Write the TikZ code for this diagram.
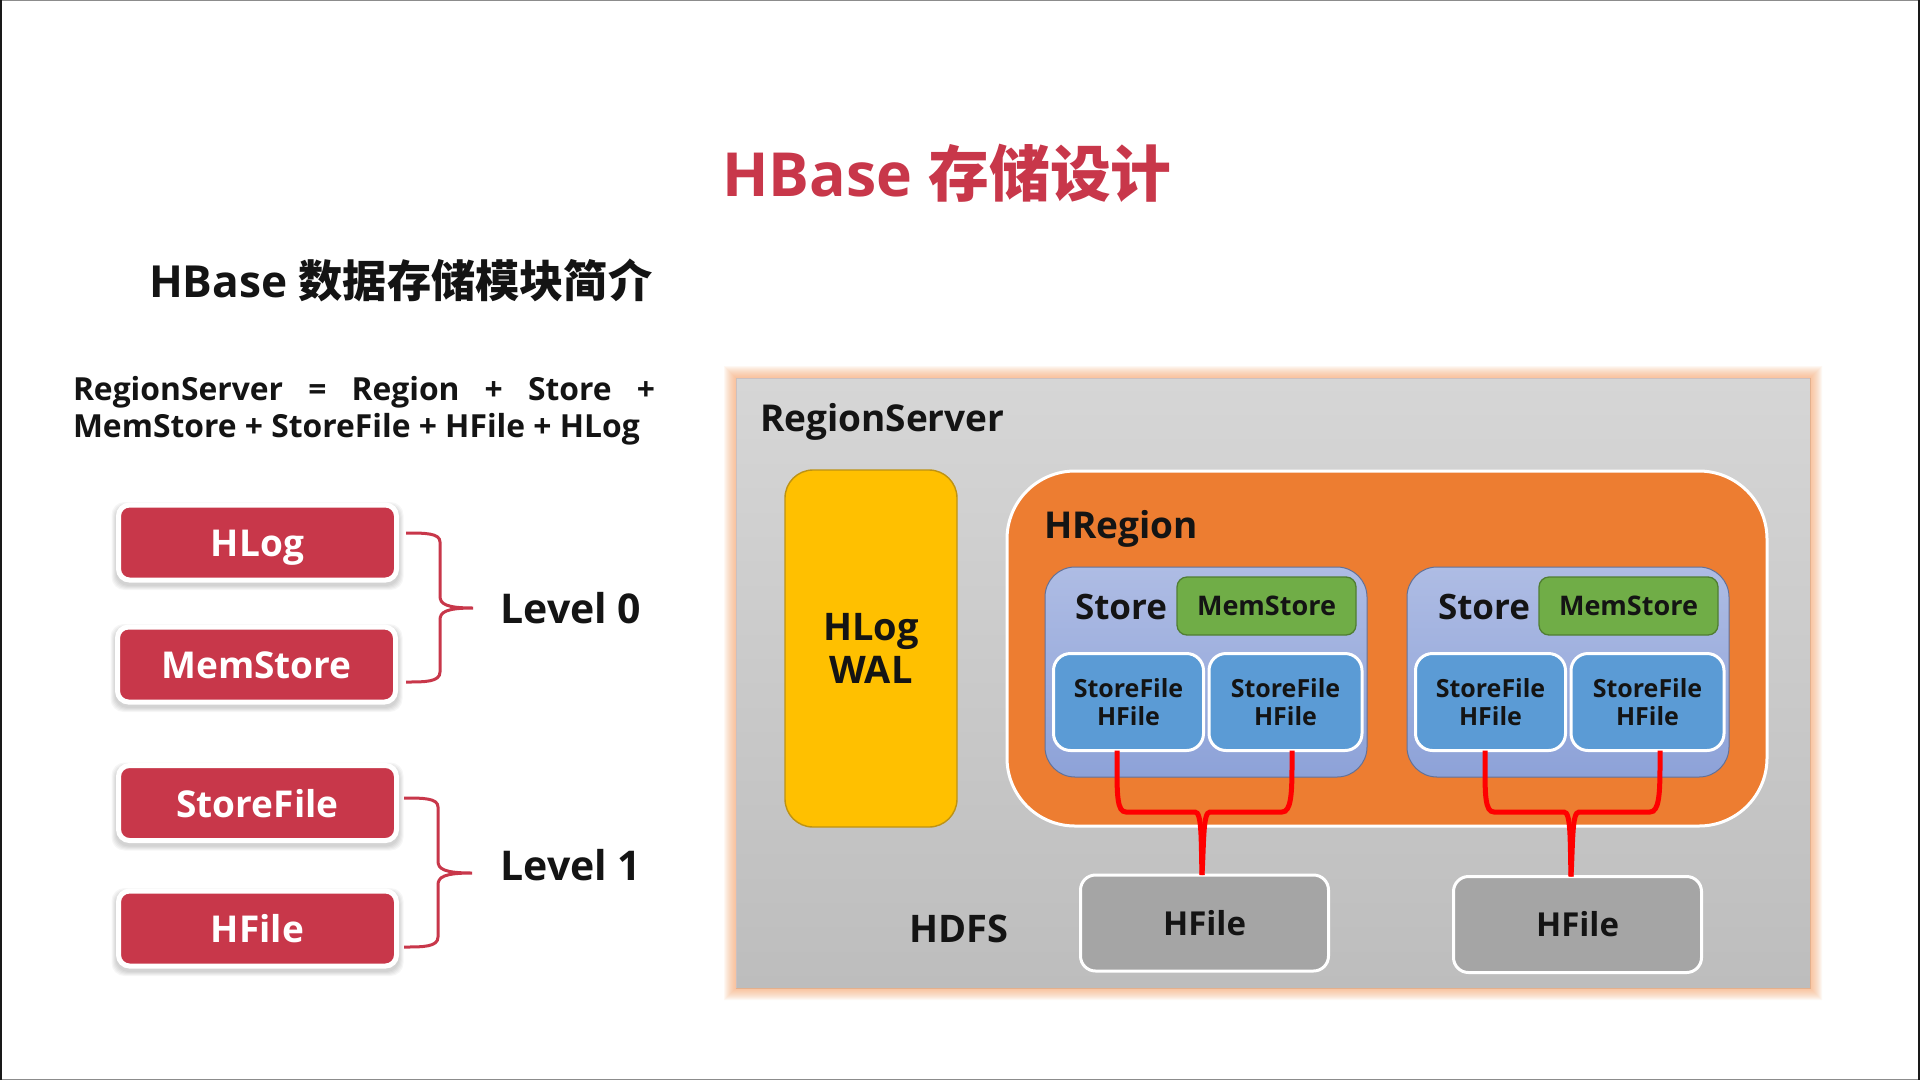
\documentclass[tikz,border=0pt]{standalone}
\usepackage{fontspec}
\setmainfont{Open Sans}
\newfontfamily\cjk{Noto Sans CJK SC}
\usetikzlibrary{shadows,calc,backgrounds}
\definecolor{rubric}{HTML}{C8374A}
\definecolor{ink}{HTML}{141414}
\newcommand{\fs}[1]{\fontsize{#1}{#1}\selectfont\bfseries}
\newcommand{\fsl}[2]{\fontsize{#1}{#2}\selectfont\bfseries}
\tikzset{
  x=1pt,y=-1pt,
  box/.style={inner sep=0pt,outer sep=0pt,align=center,text=ink},
  redbox/.style={box,fill=rubric,draw=white,line width=5pt,rounded corners=11pt,
    minimum width=278pt,minimum height=75pt,text=white,font=\fs{37},
    text height=28pt,text depth=0pt},
  brace/.style={draw=rubric,line width=3pt},
  rsbox/.style={box,top color=rsTop,bottom color=rsBot,draw=black!20,line width=.8pt},
  walbox/.style={box,fill=walY,draw=walD,line width=1.4pt,rounded corners=28pt,font=\fs{38}},
  regionbox/.style={box,fill=regO,draw=white,line width=3pt,rounded corners=68pt},
  storebox/.style={box,top color=stTop,bottom color=stBot,draw=black!30!stBot,line width=1pt,rounded corners=30pt},
  membox/.style={box,fill=memG,draw=memD,line width=1.3pt,rounded corners=10pt,font=\fs{27}},
  filebox/.style={box,fill=fileB,draw=white,line width=3pt,rounded corners=17pt,font=\fsl{25}{28},
    minimum width=150pt,minimum height=97pt},
  hfilebox/.style={box,fill=hfG,draw=white,line width=3pt,rounded corners=15pt,font=\fs{33},
    minimum width=248pt,minimum height=96pt},
  link/.style={draw=linkR,line width=5pt},
  label/.style={box,font=\fs{37}},
}
\definecolor{rsTop}{HTML}{D6D6D6}
\definecolor{rsBot}{HTML}{BDBDBD}
\definecolor{walY}{HTML}{FFC000}
\definecolor{walD}{HTML}{BE9313}
\definecolor{regO}{HTML}{ED7D31}
\definecolor{stTop}{HTML}{AEBCE4}
\definecolor{stBot}{HTML}{8DA2D8}
\definecolor{memG}{HTML}{70AD47}
\definecolor{memD}{HTML}{507E32}
\definecolor{fileB}{HTML}{5B9BD5}
\definecolor{hfG}{HTML}{A5A5A5}
\definecolor{linkR}{HTML}{FF0000}
\definecolor{glow}{HTML}{F9A56B}
\begin{document}
\begin{tikzpicture}
\useasboundingbox (0,0) rectangle (1920,1080);

% Headings
\node[box,text=rubric,font=\fs{60.8}] (title) at (947,173) {HBase {\cjk 存储设计}};
\node[box,font=\fs{44.2},anchor=west] (sub) at (149,280.5) {HBase {\cjk 数据存储模块简介}};
\node[box,font=\fsl{31.8}{37},anchor=north west,text width=582pt,align=justify] (formula) at (73,376.5)
  {RegionServer = Region + Store +\linebreak MemStore + StoreFile + HFile + HLog};

% Left column
\node[redbox] (hlog) at (257.5,542.5) {HLog};
\node[redbox] (mem) at (256.5,664.5) {MemStore};
\node[redbox] (sfile) at (257.5,803) {StoreFile};
\node[redbox] (hfile) at (257.5,928.5) {HFile};

\begin{scope}[on background layer]
\fill[white] (0,0) rectangle (1920,1080);
\foreach \n in {hlog,mem,sfile,hfile}{
  \foreach \e in {3,4,5,6,7}{
    \fill[black,opacity=.035,rounded corners=13pt]
      ([shift={(-\e pt,\e pt-4pt)}]\n.north west) rectangle ([shift={(\e pt,-\e pt-3pt)}]\n.south east);
  }
}
\end{scope}

% Page frame
\draw[black!45,line width=1.5pt] (0,0.7) -- (1920,0.7) (0,1079.3) -- (1920,1079.3);
\draw[black!90,line width=2pt] (1,0) -- (1,1080) (1919,0) -- (1919,1080);

\node[label,font=\fs{41}] (lv0) at (571,608) {Level 0};
\node[label,font=\fs{41}] (lv1) at (571,865) {Level 1};

\coordinate (b0a) at (406,533);
\coordinate (b0b) at (406,682);
\coordinate (b0c) at (473,608);
\coordinate (b1a) at (404,798);
\coordinate (b1b) at (404,947);
\coordinate (b1c) at (472,873);
\draw[brace] (b0a) .. controls (425,533) and (440,533) .. (440,542) -- (440,596)
  .. controls (440,604) and (446,608) .. (b0c)
  (b0b) .. controls (425,682) and (440,682) .. (440,672) -- (440,620)
  .. controls (440,612) and (446,608) .. (b0c);
\draw[brace] (b1a) .. controls (423,798) and (438,798) .. (438,807) -- (438,861)
  .. controls (438,869) and (444,873) .. (b1c)
  (b1b) .. controls (423,947) and (438,947) .. (438,937) -- (438,885)
  .. controls (438,877) and (444,873) .. (b1c);

% RegionServer frame
\node[rsbox,minimum width=1074pt,minimum height=610pt] (rs) at (1273,683) {};
\foreach \e in {1,...,12}{
  \fill[glow,opacity=.075,even odd rule]
    ([shift={(-\e pt,\e pt)}]rs.north west) rectangle ([shift={(\e pt,-\e pt)}]rs.south east)
    (rs.north west) rectangle (rs.south east);
}
\node[label,anchor=west] (rslabel) at (760,422) {RegionServer};

\node[walbox,minimum width=172pt,minimum height=357pt] (wal) at (871,648.5) {HLog\\[5pt]WAL};
\node[regionbox,minimum width=760pt,minimum height=355pt] (region) at (1387,648.5) {};
\node[label,anchor=west] (rglabel) at (1044,529) {HRegion};

% Store 1
\node[storebox,minimum width=322pt,minimum height=210pt] (st1) at (1206,672) {};
\node[label,font=\fs{35}] (st1l) at (1121,607) {Store};
\node[membox,minimum width=179pt,minimum height=58pt] (m1) at (1266.5,606) {MemStore};
\node[filebox] (f11) at (1128.5,702) {StoreFile\\HFile};
\node[filebox,minimum width=153pt] (f12) at (1285.5,702) {StoreFile\\HFile};

% Store 2
\node[storebox,minimum width=322pt,minimum height=210pt] (st2) at (1568,672) {};
\node[label,font=\fs{35}] (st2l) at (1484,607) {Store};
\node[membox,minimum width=179pt,minimum height=58pt] (m2) at (1628.5,606) {MemStore};
\node[filebox] (f21) at (1490.5,702) {StoreFile\\HFile};
\node[filebox,minimum width=153pt] (f22) at (1647.5,702) {StoreFile\\HFile};

% HDFS
\node[label,font=\fs{38}] (hdfs) at (959,929) {HDFS};
\node[hfilebox] (h1) at (1204.5,923) {HFile};
\node[hfilebox] (h2) at (1577.5,924.5) {HFile};

% Connectors
\coordinate (j1) at (1195,812);
\coordinate (j2) at (1210,812);
\draw[link] ([xshift=-11.5pt]f11.south) -- ++(0,14) .. controls +(0,30) and (1117,812) .. (1126,812)
   -- (j1) .. controls (1202,812) and (1201,840) .. ([xshift=-2.5pt]h1.north);
\draw[link] ([xshift=6.5pt]f12.south) -- ++(0,14) .. controls +(0,30) and (1291,812) .. (1282,812)
   -- (j2) .. controls (1203,812) and (1204,840) .. ([xshift=-2.5pt]h1.north);
\draw[link] ([xshift=-5.5pt]f21.south) -- ++(0,14) .. controls +(0,30) and (1485,812) .. (1494,812)
   -- (1564,812) .. controls (1571,812) and (1570,840) .. ([xshift=-6.5pt]h2.north);
\draw[link] ([xshift=12.5pt]f22.south) -- ++(0,14) .. controls +(0,30) and (1659,812) .. (1650,812)
   -- (1579,812) .. controls (1572,812) and (1573,840) .. ([xshift=-6.5pt]h2.north);
\end{tikzpicture}
\end{document}
